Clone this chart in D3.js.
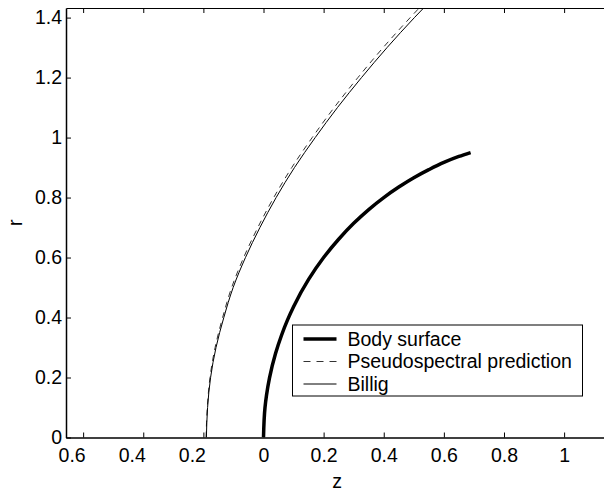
<!DOCTYPE html>
<html>
<head>
<meta charset="utf-8">
<script src="https://cdn.jsdelivr.net/npm/d3@7"></script>
<style>
  body { margin: 0; background: #fff; }
  svg { display: block; font-family: "Liberation Sans", Arial, sans-serif; }
</style>
</head>
<body>
<div id="chart"></div>
<script>
// ==== Data (z, r) ====
const bodyZ = [0, 0.005, 0.01, 0.02, 0.04, 0.06, 0.08, 0.1, 0.15, 0.2, 0.25, 0.3, 0.35, 0.4, 0.45, 0.5, 0.55, 0.6, 0.65, 0.689];
const bodyR = [0, 0.100, 0.141, 0.199, 0.280, 0.341, 0.392, 0.436, 0.527, 0.600, 0.661, 0.714, 0.760, 0.800, 0.835, 0.866, 0.893, 0.917, 0.937, 0.950];

const shockR = [0, 0.1, 0.2, 0.3, 0.4, 0.5, 0.6, 0.7, 0.8, 0.9, 1.0, 1.1, 1.2, 1.3, 1.4, 1.45];
const billigZ = [-0.190, -0.186, -0.176, -0.158, -0.132, -0.101, -0.060, -0.012, 0.042, 0.103, 0.172, 0.246, 0.326, 0.411, 0.502, 0.550];
const pseudoZ = [-0.191, -0.187, -0.178, -0.161, -0.136, -0.106, -0.066, -0.019, 0.034, 0.094, 0.162, 0.235, 0.314, 0.398, 0.488, 0.535];

const xTicks = [-0.6, -0.4, -0.2, 0, 0.2, 0.4, 0.6, 0.8, 1];
const xTickLabels = ["0.6", "0.4", "0.2", "0", "0.2", "0.4", "0.6", "0.8", "1"];
const yTicks = [0, 0.2, 0.4, 0.6, 0.8, 1, 1.2, 1.4];
const yTickLabels = ["0", "0.2", "0.4", "0.6", "0.8", "1", "1.2", "1.4"];

const legendNames = ["Body surface", "Pseudospectral prediction", "Billig"];

// ==== Chart ====
const W = 604, H = 494;
const margin = { top: 8, right: -4, bottom: 56.5, left: 66 };
const width = W - margin.left - margin.right;
const height = H - margin.top - margin.bottom;
const fontSize = 19.5;

const svg = d3.select("#chart").append("svg")
    .attr("width", W)
    .attr("height", H);

const g = svg.append("g").attr("transform", `translate(${margin.left},${margin.top})`);

const x = d3.scaleLinear().domain([-0.657, 1.146]).range([0, width]);
const y = d3.scaleLinear().domain([0, 1.432]).range([height, 0]);

g.append("clipPath").attr("id", "plotClip")
  .append("rect").attr("width", width).attr("height", height);

const line = d3.line()
    .x(d => x(d[0]))
    .y(d => y(d[1]))
    .curve(d3.curveMonotoneY);

const plot = g.append("g").attr("clip-path", "url(#plotClip)");

plot.append("path")
    .datum(pseudoZ.map((z, i) => [z, shockR[i]]))
    .attr("fill", "none")
    .attr("stroke", "#333")
    .attr("stroke-width", 1)
    .attr("stroke-dasharray", "6,5")
    .attr("d", line);

plot.append("path")
    .datum(billigZ.map((z, i) => [z, shockR[i]]))
    .attr("fill", "none")
    .attr("stroke", "#000")
    .attr("stroke-width", 1)
    .attr("d", line);

plot.append("path")
    .datum(bodyZ.map((z, i) => [z, bodyR[i]]))
    .attr("fill", "none")
    .attr("stroke", "#000")
    .attr("stroke-width", 3.5)
    .attr("d", line);

// axes (ticks pointing inward, box style)
const xAxis = g.append("g")
    .attr("transform", `translate(0,${height})`)
    .call(d3.axisBottom(x).tickValues(xTicks)
        .tickFormat((d, i) => xTickLabels[i])
        .tickSizeInner(-5).tickSizeOuter(0).tickPadding(10.5));

xAxis.selectAll(".tick text")
    .attr("dx", d => d < 0 ? -11.5 : 0);

const yAxis = g.append("g")
    .call(d3.axisLeft(y).tickValues(yTicks)
        .tickFormat((d, i) => yTickLabels[i])
        .tickSizeInner(-5).tickSizeOuter(0).tickPadding(4));

g.append("g")
    .call(d3.axisTop(x).tickValues(xTicks).tickFormat("")
        .tickSizeInner(-5).tickSizeOuter(0));

g.selectAll(".tick text")
    .style("font-size", fontSize + "px")
    .style("font-family", "'Liberation Sans', Arial, sans-serif")
    .attr("fill", "#000");
g.selectAll(".tick line").attr("stroke", "#000");
g.selectAll(".domain").attr("stroke", "#000");
xAxis.select(".domain").attr("stroke-width", 1.5);
yAxis.select(".domain").attr("stroke-width", 1.5);

// axis labels
svg.append("text")
    .attr("x", margin.left + width / 2)
    .attr("y", 488)
    .attr("text-anchor", "middle")
    .style("font-size", fontSize + "px")
    .text("z");

svg.append("text")
    .attr("transform", `translate(21.5,${margin.top + height / 2}) rotate(-90)`)
    .attr("text-anchor", "middle")
    .style("font-size", fontSize + "px")
    .text("r");

// legend
const legend = svg.append("g").attr("transform", "translate(292.5,325)");
legend.append("rect")
    .attr("width", 290)
    .attr("height", 71)
    .attr("fill", "#fff")
    .attr("stroke", "#000")
    .attr("stroke-width", 1);

const legendStyles = [
    { w: 3.5, dash: null, color: "#000" },
    { w: 1, dash: "7,6", color: "#333" },
    { w: 1, dash: null, color: "#000" }
];

const rows = legend.selectAll("g.row")
    .data(legendNames)
    .enter()
    .append("g")
    .attr("class", "row")
    .attr("transform", (d, i) => `translate(0,${14 + i * 22.5})`);

rows.append("line")
    .attr("x1", 11).attr("x2", 44)
    .attr("stroke", (d, i) => legendStyles[i].color)
    .attr("stroke-width", (d, i) => legendStyles[i].w)
    .attr("stroke-dasharray", (d, i) => legendStyles[i].dash);

rows.append("text")
    .attr("x", 55)
    .attr("dy", "0.35em")
    .style("font-size", fontSize + "px")
    .text(d => d);
</script>
</body>
</html>
